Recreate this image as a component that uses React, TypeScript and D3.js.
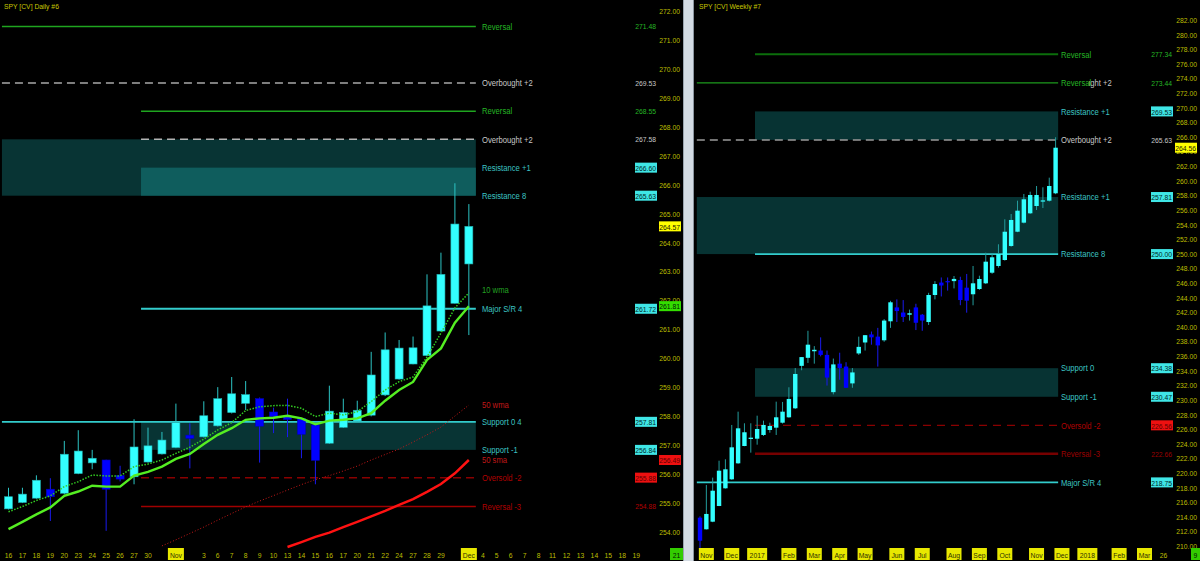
import React from "react";
import * as d3 from "d3";

// ---------------- DAILY DATA ----------------
const dailyDays = ["10-16","10-17","10-18","10-19","10-20","10-23","10-24","10-25","10-26","10-27","10-30","10-31","11-01","11-02","11-03","11-06","11-07","11-08","11-09","11-10","11-13","11-14","11-15","11-16","11-17","11-20","11-21","11-22","11-24","11-27","11-28","11-29","11-30","12-01","12-04","12-05","12-06","12-07","12-08","12-11","12-12","12-13","12-14","12-15","12-18","12-19"];
const dailyTickLabels = ["16","17","18","19","20","23","24","25","26","27","30","","Nov","","3","6","7","8","9","10","13","14","15","16","17","20","21","22","24","27","28","29","","Dec","4","5","6","7","8","11","12","13","14","15","18","19"];
const dailyOpen  = [254.80,255.02,255.17,255.48,255.34,256.02,256.39,256.49,255.95,255.91,256.42,256.70,256.92,257.35,257.29,257.67,258.13,258.45,258.61,258.15,257.99,257.93,257.70,257.07,257.62,257.84,258.04,258.74,259.29,259.81,260.10,260.95,261.91,263.27];
const dailyHigh  = [255.53,255.53,255.96,255.86,257.15,257.52,256.84,256.50,256.29,257.90,257.61,257.46,258.44,257.76,258.52,259.01,259.36,259.22,258.65,258.30,258.61,257.95,257.72,259.06,258.61,258.54,260.23,260.90,260.64,260.76,262.91,263.66,266.06,265.34];
const dailyLow   = [254.78,255.00,255.15,254.38,255.30,256.00,256.17,254.04,255.75,255.65,256.40,256.68,256.90,256.20,257.27,257.65,258.10,258.22,256.40,257.42,257.28,256.55,255.65,257.05,257.60,257.82,258.00,258.70,259.27,259.80,260.08,260.93,261.90,260.81];
const dailyClose = [255.22,255.31,255.79,255.22,256.69,256.80,256.55,255.48,255.83,256.94,256.98,257.18,257.78,257.24,258.02,258.61,258.78,258.75,257.66,257.99,257.89,257.38,256.48,258.18,258.13,258.21,259.43,260.30,260.36,260.37,261.82,262.91,264.65,264.57];
const dailySma10 = [254.10,254.35,254.61,254.85,255.25,255.40,255.60,255.57,255.57,255.95,256.08,256.26,256.53,256.70,257.04,257.36,257.59,257.88,257.93,257.95,258.02,257.93,257.73,257.85,257.88,257.93,258.11,258.54,258.91,259.19,259.95,260.35,261.24,261.81];
const dailyWma10 = [254.70,254.88,255.09,255.25,255.57,255.74,255.97,255.94,255.94,256.26,256.35,256.49,256.72,256.93,257.21,257.53,257.78,258.20,258.33,258.37,258.38,258.28,257.99,258.11,258.05,258.16,258.51,258.91,259.20,259.36,260.05,260.88,261.75,262.27];
const dailyWma50Start = 11;
const dailyWma50 = [253.52,253.73,253.95,254.17,254.41,254.64,254.87,255.07,255.26,255.45,255.64,255.81,255.95,256.11,256.28,256.49,256.68,256.87,257.11,257.36,257.63,258.01,258.39];
const dailySma50Start = 20;
const dailySma50 = [253.48,253.65,253.83,253.98,254.17,254.35,254.54,254.73,254.94,255.14,255.39,255.66,256.03,256.49];
const dailyAxisTicks = d3.range(254, 273, 1);
const dailyLevelLabels = ["Reversal","Overbought +2","Reversal","Overbought +2","Resistance +1","Resistance 8","Major S/R 4","Support 0 4","Support -1","Oversold -2","Reversal -3"];
const dailyLevelValues = [271.48,269.53,268.55,267.58,266.60,265.63,261.72,257.81,256.84,255.88,254.88];

// ---------------- WEEKLY DATA ----------------
const weeklyTickIdx =    [1,5,9,14,18,22,26,31,35,40,44,48,53,57,61,66,70,73];
const weeklyTickLabels = ["Nov","Dec","2017","Feb","Mar","Apr","May","Jun","Jul","Aug","Sep","Oct","Nov","Dec","2018","Feb","Mar","26"];
const weeklyOpen  = [213.92,212.33,213.37,215.52,217.94,219.17,221.36,223.73,224.69,224.73,225.24,225.92,226.24,226.92,227.66,228.89,234.70,235.80,236.70,236.80,236.20,231.10,235.00,234.60,232.30,236.40,237.90,239.00,238.70,238.20,240.80,242.70,242.00,241.70,242.70,241.70,240.70,244.40,246.10,246.30,246.30,246.45,245.40,244.50,245.22,246.00,247.45,248.37,249.19,251.11,253.06,254.30,255.58,256.58,257.20,257.31,258.32];
const weeklyHigh  = [214.10,218.40,219.40,221.72,221.91,226.61,228.43,226.84,226.84,227.88,227.20,226.92,229.80,229.76,231.77,234.40,235.90,239.50,237.40,238.60,236.80,235.70,236.50,235.20,234.40,238.70,238.90,239.40,239.90,241.10,243.60,243.80,243.70,242.40,243.20,241.80,244.70,246.30,246.80,246.80,247.00,246.90,247.28,248.37,247.04,250.19,249.99,251.34,254.76,255.49,257.31,258.23,258.54,259.32,259.14,260.46,265.99];
const weeklyLow   = [209.77,212.30,213.30,215.50,217.90,219.10,221.30,223.70,222.82,223.91,225.10,225.55,225.24,226.80,227.60,228.80,234.10,235.10,235.00,236.00,232.00,230.80,232.80,231.70,231.70,236.20,236.80,237.60,234.60,238.00,239.90,240.70,240.70,240.90,239.60,239.50,240.30,243.80,244.20,245.00,245.30,243.00,241.98,242.99,245.10,245.90,247.30,248.14,249.10,251.00,253.00,254.20,255.50,256.03,256.30,257.20,258.20];
const weeklyClose = [210.77,214.43,217.61,220.35,220.54,223.55,226.15,225.61,224.87,226.06,226.61,226.47,227.66,228.43,230.17,233.59,235.90,237.60,236.90,236.20,233.10,234.90,234.40,231.70,233.80,237.30,238.90,238.60,237.50,240.90,243.40,242.20,241.40,241.90,240.60,240.90,244.40,245.90,245.70,246.20,246.60,243.71,243.62,246.00,246.59,248.96,249.56,250.01,253.06,254.67,255.94,257.50,258.09,258.09,257.35,259.32,264.56];
const weeklyAxisTicks = d3.range(210, 283, 2);
const weeklyLevelLabels = ["Reversal","Reversal","Resistance +1","Overbought +2","Resistance +1","Resistance 8","Support 0","Support -1","Oversold -2","Reversal -3","Major S/R 4"];
const weeklyLevelValues = [277.34,273.44,269.53,265.63,257.81,250.00,234.38,230.47,226.56,222.66,218.75];

const FONT = "'Liberation Sans', Arial, sans-serif";
const SX = 0.85;

function T({ x, y, text, fill, size = 9, anchor = "start" }: any) {
  return (
    <text transform={`translate(${x},${y}) scale(${SX},1)`} fontSize={size} fill={fill}
      textAnchor={anchor} dominantBaseline="central" fontFamily={FONT}>{text}</text>
  );
}
function Box({ xr, y, text, bg, fg = "#002828", w = 22 }: any) {
  return (
    <g>
      <rect x={xr - w} y={y - 5} width={w} height={10} fill={bg} />
      <T x={xr - 1} y={y + 0.5} text={text} fill={fg} size={8} anchor="end" />
    </g>
  );
}

const C_GREEN = "#1fa51f", C_GRAY = "#a8a8a8", C_CYAN = "#33cccc", C_DRED = "#a00000";
const L_GREEN = "#25b525", L_GRAY = "#c8c8c8", L_CYAN = "#3cc4c4", L_RED = "#b00000";
const AX = "#bdbd00";

function Daily() {
  const y = d3.scaleLinear().domain([254, 272]).range([532, 11.5]);
  const xi = d3.scaleLinear().domain([0, dailyDays.length - 1]).range([8.5, 8.5 + 13.95 * (dailyDays.length - 1)]);
  const x0 = xi(-0.47), xp = xi(9.5), x1 = xi(33.5);
  const lx = 482, vx = 656, ax = 680;
  const line = d3.line<number>().x((_, i) => xi(i)).y((d) => y(d));
  const lineW = d3.line<number>().x((_, i) => xi(i + dailyWma50Start)).y((d) => y(d));
  const lineS = d3.line<number>().x((_, i) => xi(i + dailySma50Start)).y((d) => y(d));
  const L = dailyLevelValues, N = dailyLevelLabels;
  const hl = (v: number, a: number, color: string, w = 1.5, dash?: string) => (
    <line x1={a} x2={x1} y1={y(v)} y2={y(v)} stroke={color} strokeWidth={w} strokeDasharray={dash} />
  );
  return (
    <g>
      <rect x={0} y={0} width={683} height={561} fill="#000" />
      <rect x={x0} y={y(L[3])} width={x1 - x0} height={y(L[5]) - y(L[3])} fill="#083434" />
      <rect x={xp} y={y(L[4])} width={x1 - xp} height={y(L[5]) - y(L[4])} fill="#0f5d5d" />
      <rect x={xp} y={y(L[7])} width={x1 - xp} height={y(L[8]) - y(L[7])} fill="#083434" />
      {hl(L[0], x0, C_GREEN)}
      {hl(L[1], x0, C_GRAY, 1.5, "8,5")}
      {hl(L[2], xp, C_GREEN)}
      {hl(L[3], xp, "#b4b4b4", 1.5, "8,5")}
      {hl(L[6], xp, C_CYAN, 1.8)}
      {hl(L[7], x0, C_CYAN, 1.8)}
      {hl(L[9], xp, "#8a0000", 1.5, "8,5")}
      {hl(L[10], xp, C_DRED, 1.5)}
      <path d={lineW(dailyWma50) || ""} fill="none" stroke="#c81818" strokeWidth={1} strokeDasharray="1,2" />
      <path d={lineS(dailySma50) || ""} fill="none" stroke="#ff1212" strokeWidth={2.5} />
      {dailyOpen.map((o, i) => {
        const c = dailyClose[i], up = c >= o, cx = xi(i);
        const top = y(Math.max(o, c)), bot = y(Math.min(o, c));
        return (
          <g key={i}>
            <line x1={cx} x2={cx} y1={y(dailyHigh[i])} y2={y(dailyLow[i])} stroke={up ? "#2cc4c4" : "#1a1aee"} strokeWidth={1} />
            <rect x={cx - 4} y={top} width={8} height={Math.max(1.5, bot - top)} fill={up ? "#33ffff" : "#0000ff"} stroke={up ? "#22b0b0" : "#0000c0"} strokeWidth={0.6} />
          </g>
        );
      })}
      <path d={line(dailyWma10) || ""} fill="none" stroke="#33cc22" strokeWidth={1.5} strokeDasharray="1.5,1.5" />
      <path d={line(dailySma10) || ""} fill="none" stroke="#55ee22" strokeWidth={2.4} />
      <T x={4} y={6} text="SPY [CV]  Daily  #6" fill="#c8c800" size={8} />
      <T x={lx} y={y(L[0])} text={N[0]} fill={L_GREEN} />
      <T x={lx} y={y(L[1])} text={N[1]} fill={L_GRAY} />
      <T x={lx} y={y(L[2])} text={N[2]} fill={L_GREEN} />
      <T x={lx} y={y(L[3])} text={N[3]} fill={L_GRAY} />
      <T x={lx} y={y(L[4])} text={N[4]} fill={L_CYAN} />
      <T x={lx} y={y(L[5])} text={N[5]} fill={L_CYAN} />
      <T x={lx} y={y(dailyWma10[33]) - 3} text="10 wma" fill="#22a022" />
      <T x={lx} y={y(L[6])} text={N[6]} fill={L_CYAN} />
      <T x={lx} y={y(dailyWma50[dailyWma50.length - 1])} text="50 wma" fill="#c01818" />
      <T x={lx} y={y(L[7])} text={N[7]} fill={L_CYAN} />
      <T x={lx} y={y(L[8])} text={N[8]} fill={L_CYAN} />
      <T x={lx} y={y(dailySma50[dailySma50.length - 1])} text="50 sma" fill="#c01818" />
      <T x={lx} y={y(L[9])} text={N[9]} fill={L_RED} />
      <T x={lx} y={y(L[10])} text={N[10]} fill={L_RED} />
      <T x={vx} y={y(L[0])} text={L[0].toFixed(2)} fill={L_GREEN} size={8} anchor="end" />
      <T x={vx} y={y(L[1])} text={L[1].toFixed(2)} fill={L_GRAY} size={8} anchor="end" />
      <T x={vx} y={y(L[2])} text={L[2].toFixed(2)} fill={L_GREEN} size={8} anchor="end" />
      <T x={vx} y={y(L[3])} text={L[3].toFixed(2)} fill={L_GRAY} size={8} anchor="end" />
      <Box xr={vx + 1} y={y(L[4])} text={L[4].toFixed(2)} bg="#3fe6e6" />
      <Box xr={vx + 1} y={y(L[5])} text={L[5].toFixed(2)} bg="#3fe6e6" />
      <Box xr={vx + 1} y={y(L[6])} text={L[6].toFixed(2)} bg="#3fe6e6" />
      <Box xr={vx + 1} y={y(L[7])} text={L[7].toFixed(2)} bg="#3fe6e6" />
      <Box xr={vx + 1} y={y(L[8])} text={L[8].toFixed(2)} bg="#3fe6e6" />
      <Box xr={vx + 1} y={y(L[9])} text={L[9].toFixed(2)} bg="#ee1010" fg="#600000" />
      <T x={vx} y={y(L[10])} text={L[10].toFixed(2)} fill={L_RED} size={8} anchor="end" />
      {dailyAxisTicks.map((t) => (
        <T key={t} x={ax} y={y(t)} text={t.toFixed(2)} fill={AX} size={8} anchor="end" />
      ))}
      <Box xr={ax + 1} y={y(dailyClose[33])} text={dailyClose[33].toFixed(2)} bg="#ffff00" fg="#202000" />
      <Box xr={ax + 1} y={y(dailySma10[33])} text={dailySma10[33].toFixed(2)} bg="#33dd00" fg="#002000" />
      <Box xr={ax + 1} y={y(dailySma50[dailySma50.length - 1])} text={dailySma50[dailySma50.length - 1].toFixed(2)} bg="#ee1010" fg="#600000" />
      {dailyDays.map((d, i) => {
        const lab = dailyTickLabels[i];
        if (!lab) return null;
        const boxed = lab === "Nov" || lab === "Dec";
        return (
          <g key={d}>
            {boxed && <rect x={xi(i) - 8} y={548} width={16} height={12} fill="#e8e800" />}
            <T x={xi(i)} y={555} text={lab} fill={boxed ? "#303000" : AX} size={8} anchor="middle" />
          </g>
        );
      })}
      <rect x={670} y={548} width={13} height={12} fill="#33cc00" />
      <T x={676.5} y={555} text="21" fill="#002000" size={8} anchor="middle" />
    </g>
  );
}

function Weekly() {
  const y = d3.scaleLinear().domain([212, 282]).range([531.7, 20.3]);
  const x = d3.scaleLinear().domain([0, 56]).range([700, 1055.6]);
  const x0 = x(-0.5), xp = x(8.66), x1 = x(56.4);
  const lx = 1061, vx = 1172, ax = 1197;
  const L = weeklyLevelValues, N = weeklyLevelLabels;
  const hl = (v: number, a: number, color: string, w = 1.5, dash?: string) => (
    <line x1={a} x2={x1} y1={y(v)} y2={y(v)} stroke={color} strokeWidth={w} strokeDasharray={dash} />
  );
  return (
    <g>
      <rect x={694} y={0} width={506} height={561} fill="#000" />
      <rect x={xp} y={y(L[2])} width={x1 - xp} height={y(L[3]) - y(L[2])} fill="#073333" />
      <rect x={x0} y={y(L[4])} width={x1 - x0} height={y(L[5]) - y(L[4])} fill="#073333" />
      <rect x={xp} y={y(L[6])} width={x1 - xp} height={y(L[7]) - y(L[6])} fill="#073333" />
      {hl(L[0], xp, "#0b6e0b", 2)}
      {hl(L[1], x0, "#1c9a1c", 1.3)}
      {hl(L[3], x0, "#9a9a9a", 1.5, "8,5")}
      {hl(L[5], xp, C_CYAN, 1.6)}
      {hl(L[8], xp, "#8a0000", 1.2, "8,6")}
      {hl(L[9], xp, "#760000", 2.5)}
      {hl(L[10], x0, C_CYAN, 1.6)}
      {weeklyOpen.map((o, i) => {
        const c = weeklyClose[i], up = c >= o, cx = x(i);
        const top = y(Math.max(o, c)), bot = y(Math.min(o, c));
        return (
          <g key={i}>
            <line x1={cx} x2={cx} y1={y(weeklyHigh[i])} y2={y(weeklyLow[i])} stroke={up ? "#239c9c" : "#1a1aee"} strokeWidth={1} />
            <rect x={cx - 2.2} y={top} width={4.4} height={Math.max(1.2, bot - top)} fill={up ? "#33ffff" : "#0000ff"} />
          </g>
        );
      })}
      <T x={699} y={6} text="SPY [CV]  Weekly  #7" fill="#c8c800" size={8} />
      <T x={lx} y={y(L[0])} text={N[0]} fill={L_GREEN} />
      <T x={lx} y={y(L[1])} text="Overbought +2" fill={L_GRAY} />
      <rect x={lx - 1} y={y(L[1]) - 5} width={29} height={10} fill="#000" />
      <T x={lx} y={y(L[1])} text={N[1]} fill={L_GREEN} />
      <T x={lx} y={y(L[2])} text={N[2]} fill={L_CYAN} />
      <T x={lx} y={y(L[3])} text={N[3]} fill={L_GRAY} />
      <T x={lx} y={y(L[4])} text={N[4]} fill={L_CYAN} />
      <T x={lx} y={y(L[5])} text={N[5]} fill={L_CYAN} />
      <T x={lx} y={y(L[6])} text={N[6]} fill={L_CYAN} />
      <T x={lx} y={y(L[7])} text={N[7]} fill={L_CYAN} />
      <T x={lx} y={y(L[8])} text={N[8]} fill={L_RED} />
      <T x={lx} y={y(L[9])} text={N[9]} fill={"#9a0000"} />
      <T x={lx} y={y(L[10])} text={N[10]} fill={L_CYAN} />
      <T x={vx} y={y(L[0])} text={L[0].toFixed(2)} fill={L_GREEN} size={8} anchor="end" />
      <T x={vx} y={y(L[1])} text={L[1].toFixed(2)} fill={L_GREEN} size={8} anchor="end" />
      <Box xr={vx + 1} y={y(L[2])} text={L[2].toFixed(2)} bg="#3fe6e6" />
      <T x={vx} y={y(L[3])} text={L[3].toFixed(2)} fill={L_GRAY} size={8} anchor="end" />
      <Box xr={vx + 1} y={y(L[4])} text={L[4].toFixed(2)} bg="#3fe6e6" />
      <Box xr={vx + 1} y={y(L[5])} text={L[5].toFixed(2)} bg="#3fe6e6" />
      <Box xr={vx + 1} y={y(L[6])} text={L[6].toFixed(2)} bg="#3fe6e6" />
      <Box xr={vx + 1} y={y(L[7])} text={L[7].toFixed(2)} bg="#3fe6e6" />
      <Box xr={vx + 1} y={y(L[8])} text={L[8].toFixed(2)} bg="#ee1010" fg="#600000" />
      <T x={vx} y={y(L[9])} text={L[9].toFixed(2)} fill={"#9a0000"} size={8} anchor="end" />
      <Box xr={vx + 1} y={y(L[10])} text={L[10].toFixed(2)} bg="#3fe6e6" />
      {weeklyAxisTicks.map((t) => (
        <T key={t} x={ax} y={Math.min(y(t), 551)} text={t.toFixed(2)} fill={AX} size={8} anchor="end" />
      ))}
      <Box xr={ax} y={y(weeklyClose[56])} text={weeklyClose[56].toFixed(2)} bg="#ffff00" fg="#202000" />
      {weeklyTickLabels.map((lab, i) => {
        const boxed = lab !== "26";
        const w = lab.length > 3 ? 20 : 15;
        const cx = x(weeklyTickIdx[i]);
        return (
          <g key={i}>
            {boxed && <rect x={cx - w / 2} y={548} width={w} height={12} fill="#e8e800" />}
            <T x={cx} y={555} text={lab} fill={boxed ? "#303000" : AX} size={8} anchor="middle" />
          </g>
        );
      })}
      <rect x={1191} y={548} width={9} height={12} fill="#33cc00" />
      <T x={1195.5} y={555} text="9" fill="#002000" size={8} anchor="middle" />
    </g>
  );
}

export default function App() {
  return (
    <svg width={1200} height={561} style={{ position: "absolute", left: 0, top: 0, display: "block", background: "#000" }}>
      <Daily />
      <rect x={683} y={0} width={11} height={561} fill="#d3dbe3" />
      <line x1={683.5} x2={683.5} y1={0} y2={561} stroke="#9aa4ae" />
      <line x1={693.5} x2={693.5} y1={0} y2={561} stroke="#8a949e" />
      <Weekly />
    </svg>
  );
}
